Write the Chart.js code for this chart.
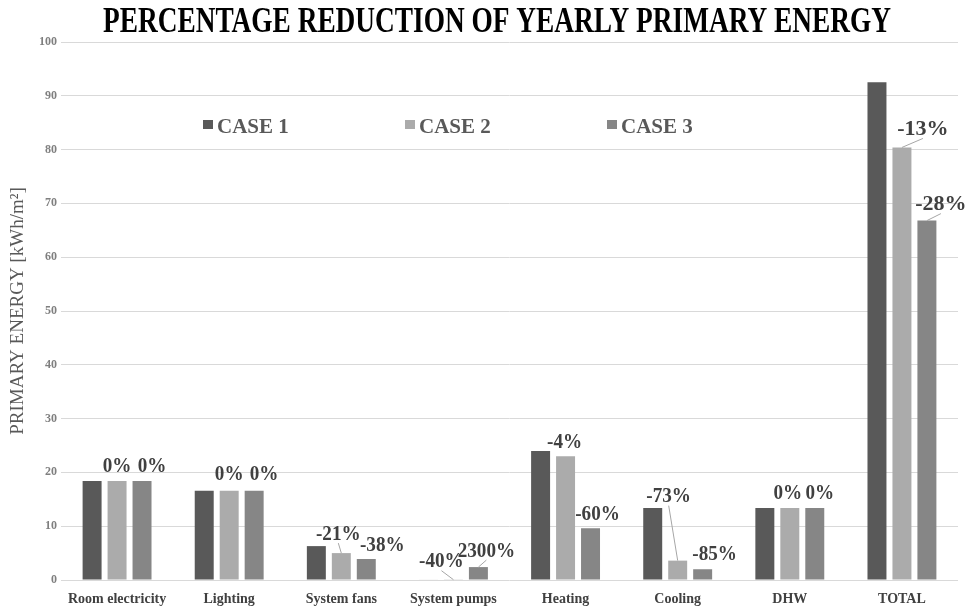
<!DOCTYPE html>
<html>
<head>
<meta charset="utf-8">
<title>Primary energy reduction</title>
<script src="https://cdn.jsdelivr.net/npm/chart.js@4.4.1/dist/chart.umd.min.js"></script>
<style>
  html, body { margin: 0; padding: 0; background: #fff; }
  #wrap { width: 971px; height: 608px; }
</style>
</head>
<body>
<div id="wrap"><canvas id="energyChart" width="971" height="608"></canvas></div>
<script>
const categories = ['Room electricity', 'Lighting', 'System fans', 'System pumps', 'Heating', 'Cooling', 'DHW', 'TOTAL'];
const seriesNames = ['CASE 1', 'CASE 2', 'CASE 3'];
const case1 = [18.4, 16.6, 6.3, 0.1, 24.0, 13.4, 13.4, 92.5];
const case2 = [18.4, 16.6, 5.0, 0.06, 23.0, 3.6, 13.4, 80.4];
const case3 = [18.4, 16.6, 3.9, 2.4, 9.6, 2.0, 13.4, 66.8];
const case2Change = ['0%', '0%', '-21%', '-40%', '-4%', '-73%', '0%', '-13%'];
const case3Change = ['0%', '0%', '-38%', '2300%', '-60%', '-85%', '0%', '-28%'];
const yTicks = [0, 10, 20, 30, 40, 50, 60, 70, 80, 90, 100];

const SERIF = '"Liberation Serif", "Times New Roman", serif';
const barColors = ['#595959', '#ababab', '#868686'];

// label nudge from the top centre of its bar: [dx, dy, leader line]
const case2LabelPos = [[0, -15, 0], [0, -16, 0], [-3, -19, 1], [-12, -18, 1], [-1, -14, 0], [-9, -64, 1], [-2, -15, 0], [21, -18, 1]];
const case3LabelPos = [[10, -15, 0], [10, -16, 0], [16, -14, 0], [8, -16, 1], [7, -14, 0], [12, -15, 0], [5, -15, 0], [14, -16, 1]];
const legendX = [203, 405, 607];

// text drawn with an optional horizontal squeeze
function squeezedText(ctx, text, x, y, squeeze) {
  ctx.save();
  ctx.translate(x, y);
  ctx.scale(squeeze, 1);
  ctx.fillText(text, 0, 0);
  ctx.restore();
}

const decorations = {
  id: 'decorations',
  afterDatasetsDraw(chart) {
    const ctx = chart.ctx;
    const sets = [[1, case2Change, case2LabelPos], [2, case3Change, case3LabelPos]];
    ctx.save();
    ctx.textAlign = 'center';
    ctx.textBaseline = 'middle';
    ctx.fillStyle = '#404040';
    sets.forEach(([dsIndex, texts, pos]) => {
      const bars = chart.getDatasetMeta(dsIndex).data;
      bars.forEach((bar, i) => {
        const [dx, dy, leader] = pos[i];
        const lx = bar.x + dx;
        const ly = bar.y + dy;
        if (leader) {
          ctx.strokeStyle = '#a6a6a6';
          ctx.lineWidth = 1;
          ctx.beginPath();
          ctx.moveTo(bar.x, bar.y);
          ctx.lineTo(lx, ly + 9);
          ctx.stroke();
        }
        const big = i === categories.length - 1;
        ctx.font = 'bold 22px ' + SERIF;
        squeezedText(ctx, texts[i], lx, ly, big ? 1 : 0.87);
      });
    });
    ctx.restore();
  },
  afterDraw(chart) {
    const ctx = chart.ctx;
    ctx.save();
    // heading
    ctx.fillStyle = '#000';
    ctx.font = 'bold 35px ' + SERIF;
    ctx.textAlign = 'center';
    ctx.textBaseline = 'alphabetic';
    const heading = 'PERCENTAGE REDUCTION OF YEARLY PRIMARY ENERGY';
    const w = ctx.measureText(heading).width;
    squeezedText(ctx, heading, 497, 32, 788 / w);

    // legend inside the plot
    ctx.font = 'bold 21px ' + SERIF;
    ctx.textAlign = 'left';
    chart.data.datasets.forEach((ds, i) => {
      ctx.fillStyle = ds.backgroundColor;
      ctx.fillRect(legendX[i], 120, 10, 9);
      ctx.fillStyle = '#595959';
      ctx.fillText(ds.label, legendX[i] + 14, 133);
    });
    ctx.restore();
  }
};

new Chart(document.getElementById('energyChart'), {
  type: 'bar',
  data: {
    labels: categories,
    datasets: [case1, case2, case3].map((values, i) => ({
      label: seriesNames[i],
      data: values,
      backgroundColor: barColors[i],
      borderWidth: 0,
      barPercentage: 0.76,
      categoryPercentage: 0.668
    }))
  },
  options: {
    responsive: false,
    animation: false,
    devicePixelRatio: 1,
    layout: { padding: { top: 42, right: 13, bottom: 0, left: 0 } },
    plugins: {
      legend: { display: false },
      title: { display: false },
      tooltip: { enabled: false }
    },
    scales: {
      x: {
        grid: { display: false },
        border: { display: false },
        ticks: {
          color: '#404040',
          font: { family: SERIF, size: 14, weight: 'bold' },
          padding: 3,
          maxRotation: 0,
          autoSkip: false
        },
        afterFit: (scale) => { scale.height = 28; }
      },
      y: {
        min: 0,
        max: 100,
        afterBuildTicks: (scale) => { scale.ticks = yTicks.map((v) => ({ value: v })); },
        grid: { color: '#d9d9d9', drawTicks: false },
        border: { display: false },
        ticks: {
          color: '#7f7f7f',
          font: { family: SERIF, size: 12, weight: 'bold' },
          padding: 4
        },
        title: {
          display: true,
          text: 'PRIMARY ENERGY [kWh/m²]',
          color: '#595959',
          font: { family: SERIF, size: 19 },
          padding: { top: 7, bottom: 0 }
        },
        afterFit: (scale) => { scale.width = 61; }
      }
    }
  },
  plugins: [decorations]
});
</script>
</body>
</html>
